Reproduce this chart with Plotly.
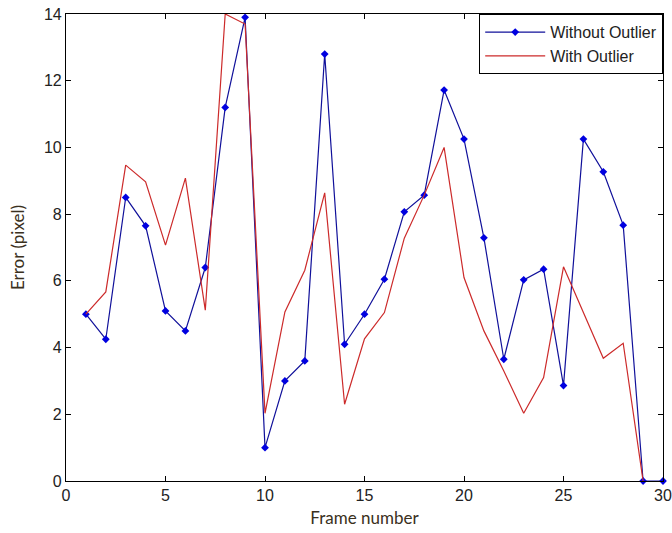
import plotly.graph_objects as go

frames = list(range(1, 31))
without_outlier = [5.0, 4.25, 8.5, 7.65, 5.1, 4.5, 6.4, 11.2, 13.9, 1.0,
                   3.0, 3.6, 12.8, 4.1, 5.0, 6.05, 8.07, 8.57, 11.72, 10.25,
                   7.29, 3.65, 6.03, 6.35, 2.86, 10.25, 9.27, 7.67, 0.0, 0.0]
frames_red = list(range(1, 30))
with_outlier = [5.0, 5.67, 9.47, 8.97, 7.07, 9.08, 5.12, 14.0, 13.7, 2.03,
                5.07, 6.32, 8.64, 2.3, 4.26, 5.05, 7.28, 8.57, 10.0, 6.1,
                4.5, 3.3, 2.03, 3.1, 6.42, 5.03, 3.68, 4.13, 0.0]

x_ticks = [0, 5, 10, 15, 20, 25, 30]
y_ticks = [0, 2, 4, 6, 8, 10, 12, 14]

fig = go.Figure()
fig.add_trace(go.Scatter(
    x=frames, y=without_outlier, mode="lines+markers", name="Without Outlier",
    line=dict(color="#10109a", width=1.2),
    marker=dict(symbol="diamond", size=6, color="#0000e0"),
    cliponaxis=False,
))
fig.add_trace(go.Scatter(
    x=frames_red, y=with_outlier, mode="lines", name="With Outlier",
    line=dict(color="#cc2a2a", width=1.2),
    cliponaxis=False,
))

axis_common = dict(
    showline=True, linecolor="black", linewidth=1.2, mirror="ticks",
    ticks="inside", ticklen=5, tickcolor="black", tickwidth=1,
    showgrid=False, zeroline=False, automargin=False,
    tickfont=dict(family="Liberation Sans, Arial", size=16, color="#222222"),
)

fig.update_layout(
    width=672, height=533,
    margin=dict(l=66, r=9, t=14, b=52),
    paper_bgcolor="white", plot_bgcolor="white",
    xaxis=dict(range=[0, 30], tickvals=x_ticks, **axis_common,
               title=dict(text="Frame number", standoff=8,
                          font=dict(family="Lato, Open Sans", size=17, color="#3a3020"))),
    yaxis=dict(range=[0, 14], tickvals=y_ticks, **axis_common,
               title=dict(text="Error (pixel)", standoff=14,
                          font=dict(family="Lato, Open Sans", size=17, color="#3a3020"))),
    legend=dict(x=1, y=1, xanchor="right", yanchor="top",
                bgcolor="white", bordercolor="black", borderwidth=1.2,
                font=dict(family="Liberation Sans, Arial", size=16, color="#222222"),
                itemwidth=60, tracegroupgap=0),
    showlegend=True,
)

fig.write_html("out.html")
